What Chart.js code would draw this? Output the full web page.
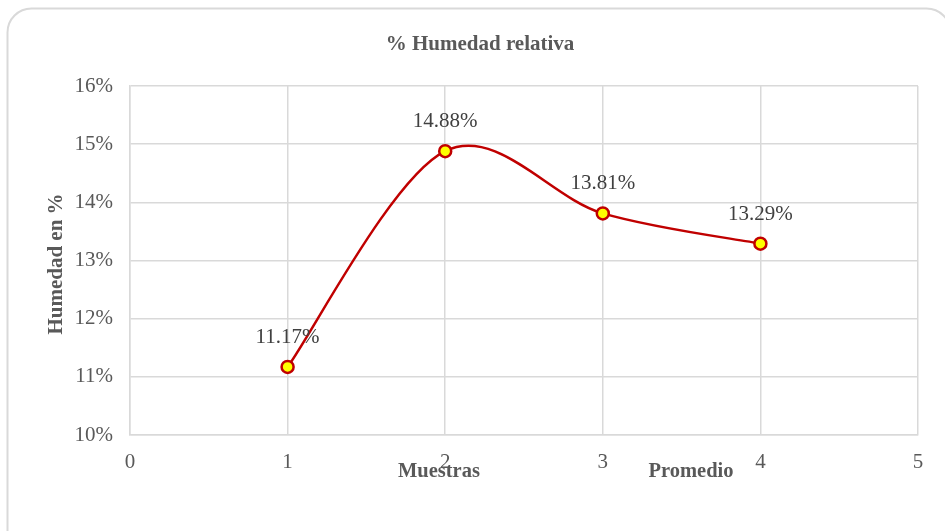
<!DOCTYPE html>
<html>
<head>
<meta charset="utf-8">
<script src="https://cdn.jsdelivr.net/npm/chart.js@4"></script>
<style>
  html, body { margin: 0; padding: 0; background: #ffffff; }
  #wrap { width: 945px; height: 531px; position: relative; }
</style>
</head>
<body>
<div id="wrap"><canvas id="chart" width="945" height="531"></canvas></div>
<script>
// Humidity per sample (%), plus the average as the 4th point
const sampleX = [1, 2, 3, 4];
const humidity = [11.17, 14.88, 13.81, 13.29];
const valueLabels = ['11.17%', '14.88%', '13.81%', '13.29%'];
const chartTitle = '% Humedad relativa';
const yTitle = 'Humedad en %';
const xNotes = [
  { text: 'Muestras', at: 1.96 },
  { text: 'Promedio', at: 3.56 }
];

const SERIF = '"Liberation Serif", "Times New Roman", serif';
const TEXT = '#595959';
const GRID = '#d9d9d9';

// Smoothed line: control points at one sixth of the neighbour chord
const smoothLine = {
  id: 'smoothLine',
  beforeDatasetsDraw(chart) {
    const meta = chart.getDatasetMeta(0);
    const pts = meta.data;
    pts.forEach((p, i) => {
      const prev = pts[i - 1] || p;
      const next = pts[i + 1] || p;
      const dx = (next.x - prev.x) / 6;
      const dy = (next.y - prev.y) / 6;
      p.cp1x = p.x - dx; p.cp1y = p.y - dy;
      p.cp2x = p.x + dx; p.cp2y = p.y + dy;
    });
    meta.dataset._pointsUpdated = true;
  }
};

const decorations = {
  id: 'decorations',
  beforeDraw(chart) {
    const ctx = chart.ctx;
    ctx.save();
    ctx.fillStyle = '#ffffff';
    ctx.fillRect(0, 0, chart.width, chart.height);
    // outer frame
    ctx.strokeStyle = GRID;
    ctx.lineWidth = 2;
    ctx.beginPath();
    ctx.roundRect(7.5, 8.5, 943, 560, 24);
    ctx.stroke();
    ctx.restore();
  },
  afterDraw(chart) {
    const ctx = chart.ctx;
    const xs = chart.scales.x, ys = chart.scales.y;
    ctx.save();
    ctx.fillStyle = TEXT;
    ctx.textAlign = 'center';
    ctx.textBaseline = 'alphabetic';
    // title
    ctx.font = 'bold 21px ' + SERIF;
    ctx.fillText(chartTitle, 480, 50);
    // y axis title
    ctx.save();
    ctx.translate(62, 264);
    ctx.rotate(-Math.PI / 2);
    ctx.font = 'bold 21px ' + SERIF;
    ctx.fillText(yTitle, 0, 0);
    ctx.restore();
    // notes under the x axis
    ctx.font = 'bold 20.5px ' + SERIF;
    xNotes.forEach(n => ctx.fillText(n.text, xs.getPixelForValue(n.at), 477));
    // value labels above the points
    ctx.fillStyle = '#404040';
    ctx.font = '21px ' + SERIF;
    humidity.forEach((v, i) => {
      ctx.fillText(valueLabels[i], xs.getPixelForValue(sampleX[i]), ys.getPixelForValue(v) - 24);
    });
    ctx.restore();
  }
};

new Chart(document.getElementById('chart'), {
  type: 'scatter',
  data: {
    datasets: [{
      data: sampleX.map((x, i) => ({ x: x, y: humidity[i] })),
      showLine: true,
      tension: 0.4,
      borderColor: '#c00000',
      borderWidth: 2.5,
      pointRadius: 6,
      pointHoverRadius: 6,
      pointBackgroundColor: '#ffff00',
      pointBorderColor: '#c00000',
      pointBorderWidth: 2.5
    }]
  },
  options: {
    responsive: false,
    animation: false,
    events: [],
    layout: { padding: { top: 86, right: 27, left: 0, bottom: 0 } },
    plugins: { legend: { display: false }, tooltip: { enabled: false }, title: { display: false } },
    scales: {
      x: {
        type: 'linear', min: 0, max: 5,
        ticks: { stepSize: 1, color: TEXT, padding: 15, font: { family: SERIF, size: 21 } },
        grid: { color: GRID, lineWidth: 1.5, drawTicks: false },
        border: { color: GRID, width: 1.5 },
        afterFit(s) { s.height = 96; }
      },
      y: {
        min: 10, max: 16,
        ticks: { stepSize: 1, color: TEXT, padding: 17, font: { family: SERIF, size: 21 },
          callback: v => v + '%' },
        grid: { color: GRID, lineWidth: 1.5, drawTicks: false },
        border: { color: GRID, width: 1.5 },
        afterFit(s) { s.width = 130; }
      }
    }
  },
  plugins: [smoothLine, decorations]
});
</script>
</body>
</html>
